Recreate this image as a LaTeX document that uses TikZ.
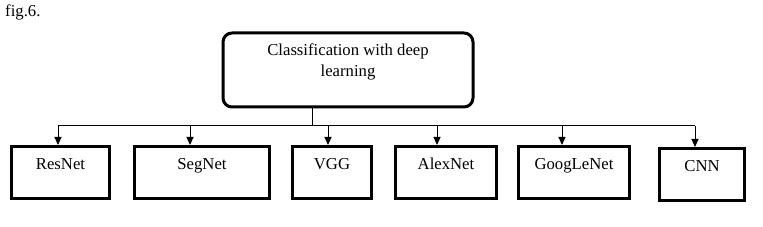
\documentclass[tikz,border=0pt]{standalone}
\usepackage{fontspec}
\setmainfont{Liberation Serif}
\usetikzlibrary{arrows.meta}
\begin{document}
\begin{tikzpicture}[x=1pt,y=-1pt,
  txt/.style={font=\fontsize{16.7}{21}\selectfont, inner sep=0pt},
  netbox/.style={draw, line width=3pt, anchor=north west, inner xsep=0pt, inner ysep=0pt,
    text height=23pt, text depth=29pt, font=\fontsize{16.7}{21}\selectfont},
  topbox/.style={draw, line width=3pt, rounded corners=9pt},
  conn/.style={line width=1pt},
  arr/.style={line width=1pt, -{Triangle[width=7pt,length=8pt]}}]
\useasboundingbox (0,0) rectangle (763,227);
\node[txt, anchor=base west] (fig) at (5,17) {fig.6.};
% top box
\node[topbox, minimum width=250pt, minimum height=74pt] (top) at (348,70) {};
\node[txt, align=center] (title) at (348,62) {Classification with deep\\learning};
% boxes
\node[netbox, minimum width=98pt] (ResNet) at (10,145) {ResNet};
\node[netbox, minimum width=135pt] (SegNet) at (133,145) {SegNet};
\node[netbox, minimum width=79pt] (VGG) at (291,145) {VGG};
\node[netbox, minimum width=101pt] (AlexNet) at (394,145) {AlexNet};
\node[netbox, minimum width=111pt] (GoogLeNet) at (517,145) {GoogLeNet};
\node[netbox, minimum width=85pt] (CNN) at (658,147) {CNN};
% bus
\coordinate (tj) at (312,126);
\coordinate (a1) at (58,126);
\coordinate (a2) at (190,126);
\coordinate (a3) at (328,126);
\coordinate (a4) at (437,126);
\coordinate (a5) at (562,126);
\coordinate (a6) at (695,126);
\draw[conn] (top.south -| tj) -- (tj);
\draw[conn] (a1) -- (a6);
\draw[arr] (a1) -- (a1 |- ResNet.north);
\draw[arr] (a2) -- (a2 |- SegNet.north);
\draw[arr] (a3) -- (a3 |- VGG.north);
\draw[arr] (a4) -- (a4 |- AlexNet.north);
\draw[arr] (a5) -- (a5 |- GoogLeNet.north);
\draw[arr] (a6) -- (a6 |- CNN.north);
\end{tikzpicture}
\end{document}
